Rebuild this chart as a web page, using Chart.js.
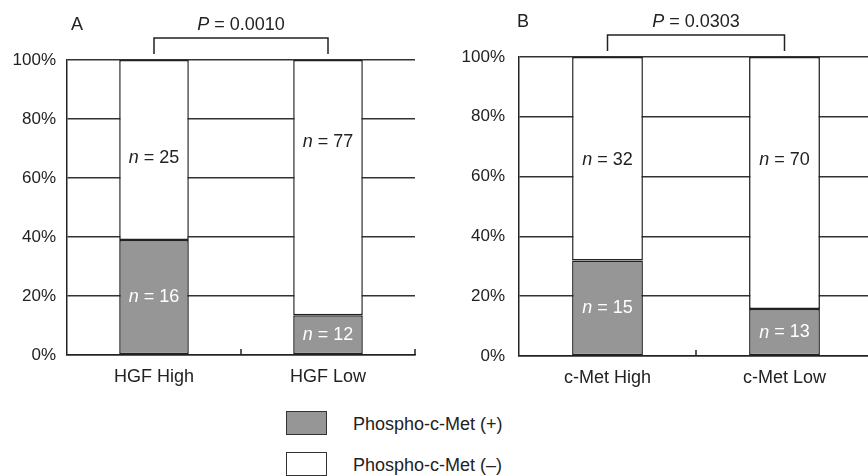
<!DOCTYPE html>
<html>
<head>
<meta charset="utf-8">
<script src="https://cdn.jsdelivr.net/npm/chart.js@4.4.1/dist/chart.umd.min.js"></script>
<style>
body { margin:0; width:868px; height:476px; overflow:hidden; background:#fff; position:relative;
       font-family:"Liberation Sans", Arial, sans-serif; color:#222; }
canvas { position:absolute; top:0; }
#chartA { left:0; }
#chartB { left:440px; }
.box { position:absolute; left:286px; width:39px; height:22px; border:1.5px solid #333; }
.legtxt { position:absolute; left:353px; font-size:18px; line-height:21px; }
</style>
</head>
<body>
<canvas id="chartA" width="440" height="392"></canvas>
<canvas id="chartB" width="440" height="392"></canvas>
<div id="legend"></div>
<script>
// series names
const seriesNames = ['Phospho-c-Met (+)', 'Phospho-c-Met (\u2013)'];
const seriesColors = ['#969696', '#ffffff'];

// panel A
const groupsA = ['HGF High', 'HGF Low'];
const posPctA = [39.0, 13.5];
const negPctA = [61.0, 86.5];
const posNA = [16, 12];
const negNA = [25, 77];
const negLabelAtA = [66.8, 72.2];
const pValueA = '0.0010';

// panel B
const groupsB = ['c-Met High', 'c-Met Low'];
const posPctB = [31.9, 15.7];
const negPctB = [68.1, 84.3];
const posNB = [15, 13];
const negNB = [32, 70];
const negLabelAtB = [65.6, 65.6];
const pValueB = '0.0303';

const yTicks = [0, 20, 40, 60, 80, 100];

const FONT = '"Liberation Sans", Arial, sans-serif';
Chart.defaults.font.family = FONT;
Chart.defaults.font.size = 18;
Chart.defaults.color = '#222';

function drawNText(ctx, prefix, rest, cx, cy, color) {
    ctx.save();
    ctx.fillStyle = color;
    ctx.textBaseline = 'middle';
    ctx.textAlign = 'left';
    ctx.font = 'italic 18px ' + FONT;
    const w1 = ctx.measureText(prefix).width;
    ctx.font = '18px ' + FONT;
    const w2 = ctx.measureText(rest).width;
    const x0 = cx - (w1 + w2) / 2;
    ctx.font = 'italic 18px ' + FONT;
    ctx.fillText(prefix, x0, cy);
    ctx.font = '18px ' + FONT;
    ctx.fillText(rest, x0 + w1, cy);
    ctx.restore();
}

const panelPlugin = {
    id: 'panelExtras',
    afterDatasetsDraw(chart, args, opts) {
        const ctx = chart.ctx;
        const x = chart.scales.x, y = chart.scales.y;
        const area = chart.chartArea;
        // n labels
        opts.posN.forEach((n, i) => {
            const cx = x.getPixelForValue(i);
            const cy = y.getPixelForValue(opts.posPct[i] / 2);
            drawNText(ctx, 'n', ' = ' + n, cx, cy, '#fff');
        });
        opts.negN.forEach((n, i) => {
            const cx = x.getPixelForValue(i);
            const cy = y.getPixelForValue(opts.negLabelAt[i]);
            drawNText(ctx, 'n', ' = ' + n, cx, cy, '#222');
        });
        // inward x ticks between categories
        const catW = (area.right - area.left) / chart.data.labels.length;
        ctx.save();
        ctx.strokeStyle = '#222';
        ctx.lineWidth = 1.5;
        for (let i = 1; i <= chart.data.labels.length; i++) {
            const tx = area.left + i * catW;
            ctx.beginPath();
            ctx.moveTo(tx, area.bottom);
            ctx.lineTo(tx, area.bottom - 6);
            ctx.stroke();
        }
        // bracket
        const b1 = x.getPixelForValue(0), b2 = x.getPixelForValue(1);
        ctx.beginPath();
        ctx.moveTo(b1, area.top - 6);
        ctx.lineTo(b1, area.top - 22);
        ctx.lineTo(b2, area.top - 22);
        ctx.lineTo(b2, area.top - 6);
        ctx.stroke();
        ctx.restore();
        drawNText(ctx, 'P', ' = ' + opts.pValue, (b1 + b2) / 2, area.top - 35, '#222');
        // panel letter
        ctx.save();
        ctx.fillStyle = '#222';
        ctx.font = '18px ' + FONT;
        ctx.textBaseline = 'middle';
        ctx.fillText(opts.letter, area.left + opts.letterDx, area.top - 35);
        ctx.restore();
    }
};

function makePanel(id, groups, posPct, negPct, extras, layout) {
    return new Chart(document.getElementById(id), {
        type: 'bar',
        data: {
            labels: groups,
            datasets: [
                { label: seriesNames[0], data: posPct, backgroundColor: seriesColors[0],
                  borderColor: '#222', borderWidth: 1.5, borderSkipped: false,
                  barPercentage: 0.4, categoryPercentage: 1 },
                { label: seriesNames[1], data: negPct, backgroundColor: seriesColors[1],
                  borderColor: '#222', borderWidth: 1.5, borderSkipped: false,
                  barPercentage: 0.4, categoryPercentage: 1 }
            ]
        },
        options: {
            responsive: false,
            animation: false,
            layout: { padding: { top: layout.top, right: layout.right, left: 0, bottom: 0 } },
            plugins: { legend: { display: false }, tooltip: { enabled: false }, panelExtras: extras },
            scales: {
                x: {
                    stacked: true,
                    grid: { display: false },
                    border: { display: true, color: '#222', width: 1.5 },
                    ticks: { padding: 3, color: '#222' },
                    afterFit: s => { s.height = layout.xh; }
                },
                y: {
                    stacked: true, min: 0, max: 100,
                    afterBuildTicks: s => { s.ticks = yTicks.map(v => ({ value: v })); },
                    ticks: { callback: v => v + '%', padding: layout.ypad, color: '#222', font: { size: 17 } },
                    grid: { color: '#333', lineWidth: 1.5, drawTicks: false },
                    border: { display: true, color: '#222', width: 1.5 },
                    afterFit: s => { s.width = layout.yw; }
                }
            }
        },
        plugins: [panelPlugin]
    });
}

makePanel('chartA', groupsA, posPctA, negPctA,
    { posN: posNA, negN: negNA, posPct: posPctA, negLabelAt: negLabelAtA, pValue: pValueA, letter: 'A', letterDx: 4 },
    { top: 60, right: 25, xh: 37, yw: 67, ypad: 11 });
makePanel('chartB', groupsB, posPctB, negPctB,
    { posN: posNB, negN: negNB, posPct: posPctB, negLabelAt: negLabelAtB, pValue: pValueB, letter: 'B', letterDx: -2 },
    { top: 57, right: 7, xh: 36, yw: 79, ypad: 14 });

// legend
const legend = document.getElementById('legend');
const legTops = [411, 452];
seriesNames.forEach((name, i) => {
    const box = document.createElement('div');
    box.className = 'box';
    box.style.top = legTops[i] + 'px';
    box.style.background = seriesColors[i];
    legend.appendChild(box);
    const t = document.createElement('div');
    t.className = 'legtxt';
    t.style.top = (legTops[i] + 3) + 'px';
    t.textContent = name;
    legend.appendChild(t);
});
</script>
</body>
</html>
